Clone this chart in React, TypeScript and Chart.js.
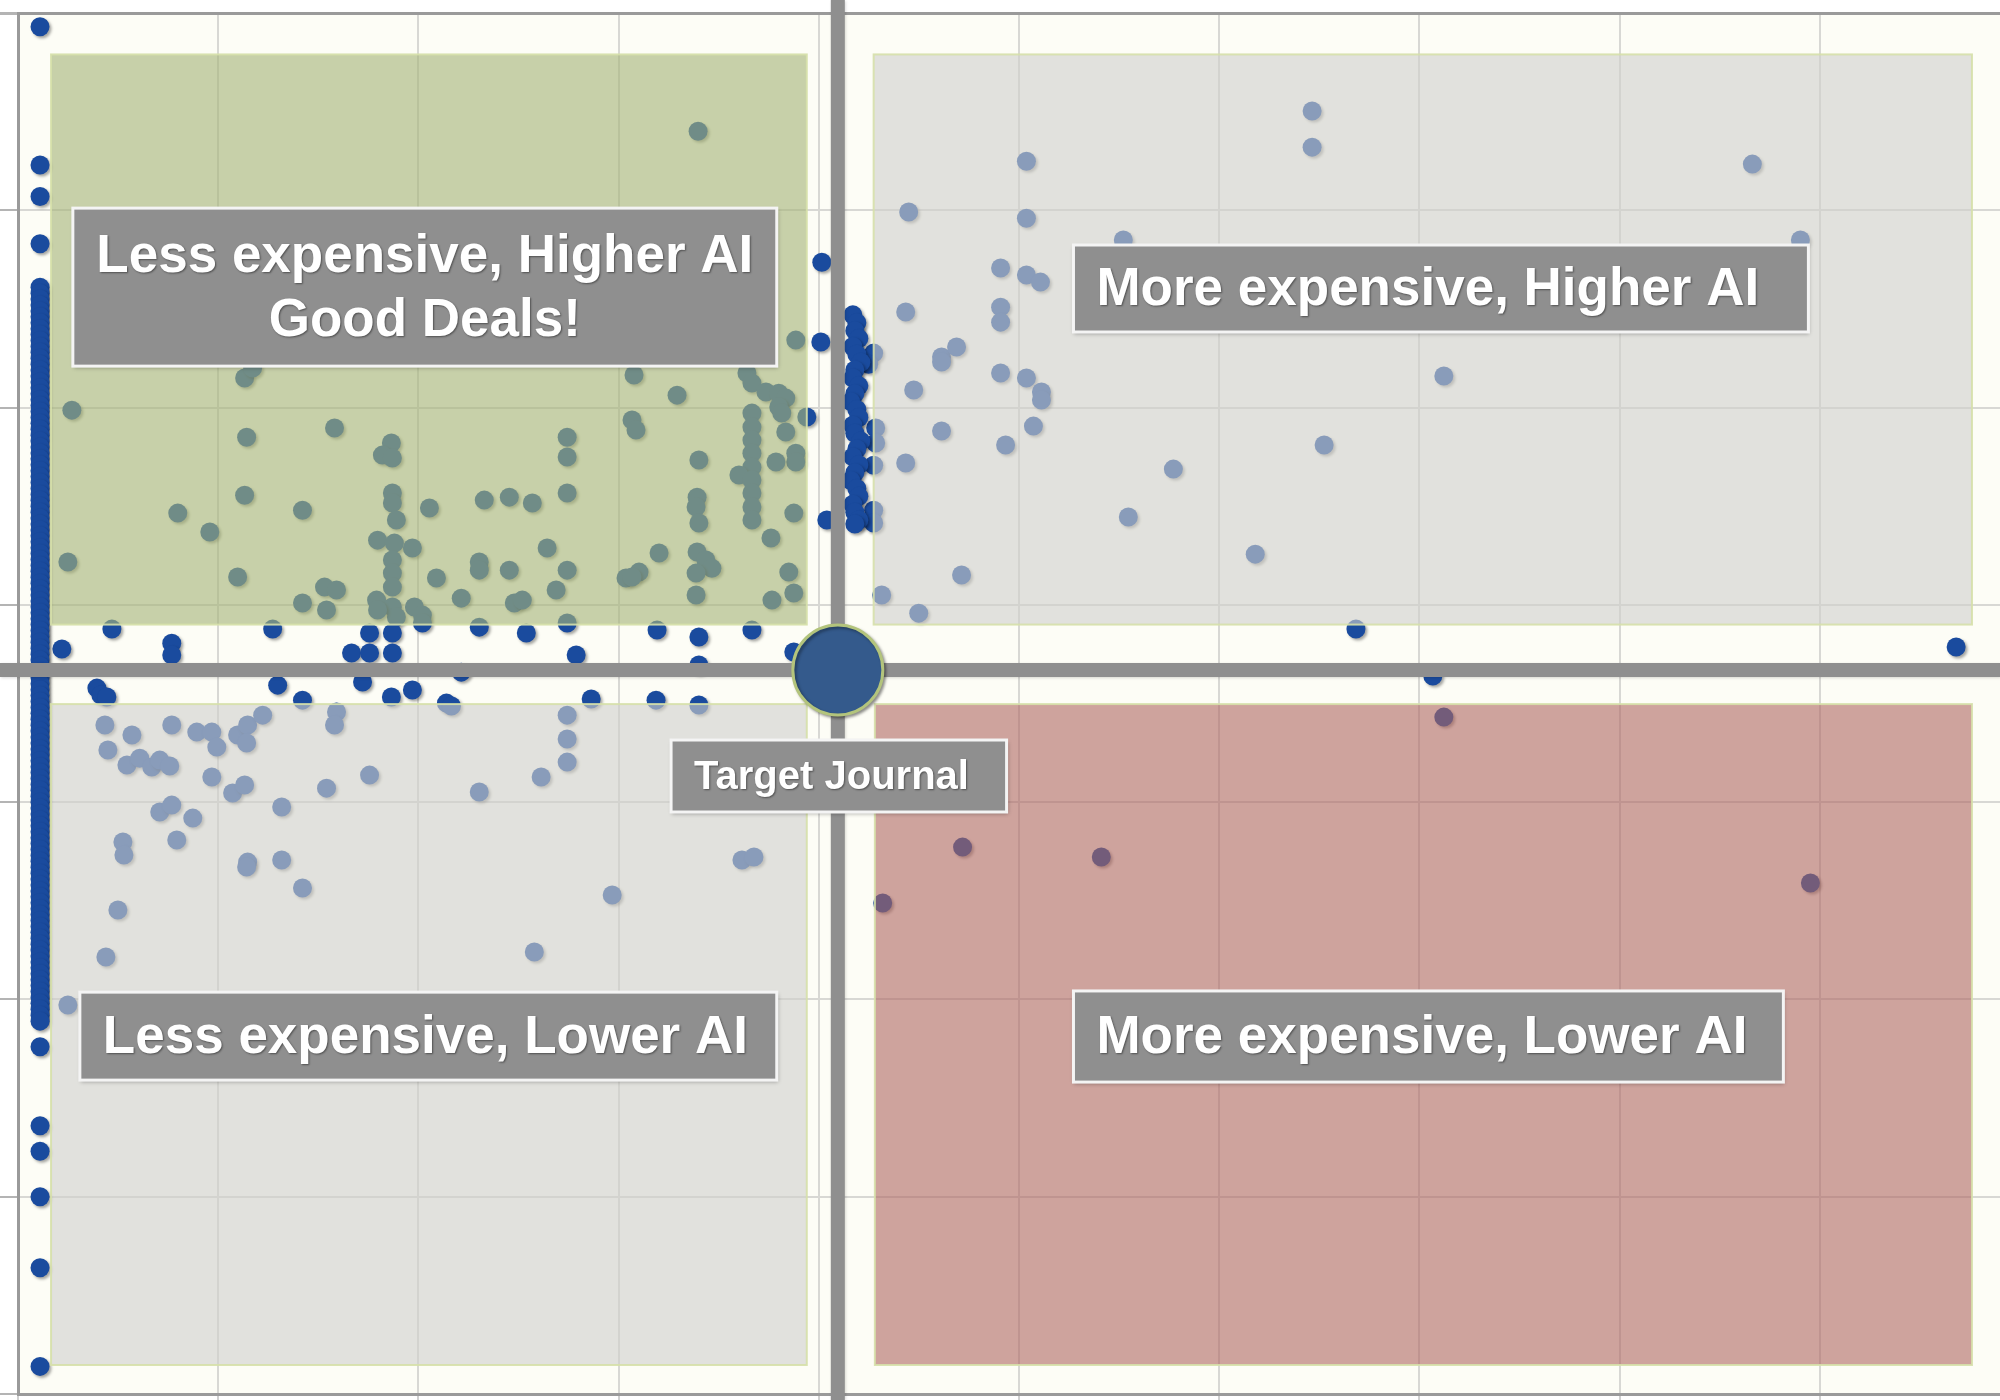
import React, { useEffect, useRef } from "react";
import { Chart, registerables } from "chart.js";

Chart.register(...registerables);

// ---- axis ranges (unitless cost index on x, AI index on y) ----
const X_MIN = 0;
const X_MAX = 9.9;
const Y_MIN = 0;
const Y_MAX = 7;

// ---- the target journal ----
const targetJournal: [number, number][] = [[4.095, 3.67]];

// ---- journals stacked at the lowest cost (far-left column) ----
const edgeColumnX = 0.11;
const edgeColumnY: number[] = [
  6.93, 6.23, 6.07, 5.83,
  5.61, 5.58, 5.55, 5.52, 5.49, 5.46, 5.43, 5.4, 5.37, 5.34, 5.31, 5.28, 5.25, 5.22, 5.19,
  5.16, 5.13, 5.1, 5.07, 5.04, 5.01, 4.98, 4.95, 4.92, 4.89, 4.86, 4.83, 4.8, 4.77, 4.74,
  4.71, 4.68, 4.65, 4.62, 4.59, 4.56, 4.53, 4.5, 4.47, 4.44, 4.41, 4.38, 4.35, 4.32, 4.29,
  4.26, 4.23, 4.2, 4.17, 4.14, 4.11, 4.08, 4.05, 4.02, 3.99, 3.96, 3.93, 3.9, 3.87, 3.84,
  3.81, 3.78, 3.75, 3.72, 3.69, 3.66, 3.63, 3.6, 3.57, 3.54, 3.51, 3.48, 3.45, 3.42, 3.39,
  3.36, 3.33, 3.3, 3.27, 3.24, 3.21, 3.18, 3.15, 3.12, 3.09, 3.06, 3.03, 3.0, 2.97, 2.94,
  2.91, 2.88, 2.85, 2.82, 2.79, 2.76, 2.73, 2.7, 2.67, 2.64, 2.61, 2.58, 2.55, 2.52, 2.49,
  2.46, 2.43, 2.4, 2.37, 2.34, 2.31, 2.28, 2.25, 2.22, 2.19, 2.16, 2.13, 2.1, 2.07, 2.04,
  2.01, 1.98, 1.95, 1.92, 1.89, 1.76,
  1.36, 1.23, 1.0, 0.64, 0.14,
];

// ---- journals stacked just above the target's cost ----
const axisColumn: [number, number][] = [
  [4.17, 5.47], [4.19, 5.43], [4.18, 5.39], [4.2, 5.35], [4.17, 5.31], [4.19, 5.27],
  [4.21, 5.23], [4.18, 5.19], [4.17, 5.15], [4.2, 5.11], [4.18, 5.07], [4.16, 5.03],
  [4.19, 4.99], [4.2, 4.95], [4.17, 4.91], [4.18, 4.87], [4.21, 4.83], [4.19, 4.79],
  [4.17, 4.75], [4.2, 4.71], [4.18, 4.67], [4.16, 4.63], [4.19, 4.59], [4.2, 4.55],
  [4.17, 4.51], [4.18, 4.47], [4.2, 4.43], [4.18, 4.41],
];

// ---- other journals near the cross-hair ----
const axisNeighbours: [number, number][] = [
  [4.015, 5.737], [4.01, 5.332], [3.94, 4.952], [4.04, 4.43],
  [4.274, 5.276], [4.249, 5.22], [4.284, 4.896], [4.284, 4.82], [4.274, 4.708],
  [4.274, 4.48], [4.274, 4.415],
];

// ---- journals close to the target's AI level (horizontal band) ----
const bandPoints: [number, number][] = [
  [0.219, 3.776], [0.469, 3.877], [0.768, 3.806], [0.768, 3.746], [1.272, 3.877],
  [1.666, 3.756], [1.756, 3.857], [1.756, 3.756], [1.87, 3.857], [1.87, 3.756],
  [2.02, 3.908], [2.304, 3.887], [2.539, 3.857], [2.743, 3.908], [2.788, 3.746],
  [3.192, 3.872], [3.401, 3.837], [3.401, 3.695], [3.666, 3.872], [3.875, 3.761],
  [0.394, 3.578], [0.414, 3.543], [0.444, 3.533], [1.297, 3.593], [1.421, 3.517],
  [1.721, 3.609], [1.865, 3.533], [1.97, 3.568], [2.14, 3.502], [2.214, 3.659],
  [2.165, 3.487], [2.863, 3.523], [3.187, 3.517], [3.401, 3.492],
  [6.683, 3.877], [7.067, 3.639], [9.681, 3.786],
];

// ---- less expensive, higher AI ----
const goodDeals: [number, number][] = [
  [3.397, 6.401], [0.269, 4.987], [1.132, 5.15], [1.172, 5.2], [1.142, 4.85], [1.581, 4.896],
  [1.865, 4.82], [1.82, 4.759], [1.87, 4.744], [1.132, 4.556], [1.87, 4.567], [1.87, 4.516],
  [1.89, 4.43], [2.055, 4.491], [0.798, 4.465], [0.958, 4.369], [1.421, 4.48], [0.249, 4.217],
  [1.097, 4.141], [1.796, 4.328], [1.88, 4.313], [1.97, 4.288], [1.87, 4.227], [1.87, 4.161],
  [1.87, 4.09], [1.791, 4.024], [1.87, 3.989], [2.09, 4.136], [1.421, 4.009], [1.531, 4.09],
  [1.591, 4.075], [1.541, 3.974], [1.98, 3.989], [2.02, 3.948], [1.89, 3.938], [1.796, 3.974],
  [3.885, 5.342], [3.077, 5.165], [3.292, 5.063], [3.641, 5.175], [3.666, 5.124], [3.736, 5.079],
  [3.8, 5.073], [3.835, 5.048], [3.8, 5.003], [3.815, 4.972], [3.666, 4.972], [3.666, 4.901],
  [3.666, 4.835], [3.835, 4.876], [3.885, 4.769], [3.885, 4.724], [3.786, 4.724], [3.666, 4.769],
  [3.666, 4.698], [3.601, 4.658], [3.666, 4.633], [3.666, 4.567], [3.666, 4.496], [3.666, 4.43],
  [3.761, 4.339], [3.875, 4.465], [3.85, 4.166], [3.875, 4.06], [3.766, 4.024], [3.067, 4.937],
  [3.087, 4.886], [3.401, 4.734], [3.392, 4.546], [3.387, 4.496], [3.401, 4.415], [3.392, 4.268],
  [3.436, 4.227], [3.466, 4.186], [3.387, 4.161], [3.387, 4.05], [3.202, 4.263], [3.037, 4.136],
  [3.102, 4.166], [3.067, 4.141], [2.743, 4.85], [2.743, 4.749], [2.743, 4.567], [2.329, 4.531],
  [2.454, 4.546], [2.569, 4.516], [2.643, 4.288], [2.304, 4.217], [2.304, 4.176], [2.454, 4.176],
  [2.743, 4.176], [2.688, 4.075], [2.214, 4.034], [2.479, 4.009], [2.519, 4.024],
];

// ---- more expensive, higher AI ----
const highCost: [number, number][] = [
  [6.464, 6.503], [6.464, 6.32], [8.663, 6.234], [5.037, 6.249], [4.449, 5.991], [5.037, 5.96],
  [5.521, 5.849], [8.903, 5.849], [4.908, 5.707], [5.037, 5.672], [5.107, 5.636], [4.434, 5.484],
  [4.908, 5.509], [4.908, 5.433], [4.613, 5.256], [4.688, 5.307], [4.613, 5.231], [4.908, 5.175],
  [5.037, 5.15], [5.112, 5.079], [5.112, 5.038], [4.474, 5.089], [5.072, 4.906], [4.613, 4.881],
  [4.933, 4.81], [4.434, 4.719], [5.771, 4.688], [5.546, 4.445], [4.713, 4.151], [4.314, 4.05],
  [4.499, 3.958], [7.122, 5.16], [6.524, 4.81], [6.18, 4.257],
];

// ---- less expensive, lower AI ----
const lowCost: [number, number][] = [
  [0.434, 3.391], [0.569, 3.34], [0.768, 3.391], [0.893, 3.355], [0.968, 3.355], [0.993, 3.279],
  [0.449, 3.264], [0.544, 3.188], [0.608, 3.223], [0.668, 3.178], [0.708, 3.213], [0.758, 3.183],
  [1.097, 3.34], [1.147, 3.391], [1.222, 3.441], [1.142, 3.3], [1.591, 3.457], [1.581, 3.391],
  [0.968, 3.127], [1.072, 3.046], [1.132, 3.087], [0.708, 2.95], [0.768, 2.985], [0.873, 2.919],
  [1.317, 2.975], [1.541, 3.071], [1.756, 3.137], [0.524, 2.798], [0.529, 2.732], [0.793, 2.808],
  [1.147, 2.696], [1.142, 2.671], [1.317, 2.707], [1.421, 2.565], [0.499, 2.453], [0.439, 2.215],
  [0.249, 1.972], [2.743, 3.441], [2.743, 3.32], [2.743, 3.203], [2.613, 3.127], [2.304, 3.051],
  [3.616, 2.707], [3.676, 2.722], [2.968, 2.529], [2.579, 2.24],
];

// ---- more expensive, lower AI ----
const poorValue: [number, number][] = [
  [7.122, 3.431], [4.718, 2.772], [5.411, 2.722], [4.319, 2.489], [8.953, 2.59],
];

// ---- annotation text ----
const labelTexts: string[][] = [
  ["Less expensive, Higher AI", "Good Deals!"],
  ["More expensive, Higher AI"],
  ["Less expensive, Lower AI"],
  ["More expensive, Lower AI"],
  ["Target Journal"],
];

// ---- annotation geometry (data units) ----
const quadrantAreas = [
  { x: [0.165, 3.94], y: [3.9, 6.79], fill: "rgba(166,181,121,0.62)" },
  { x: [4.274, 9.76], y: [3.9, 6.79], fill: "rgba(208,207,205,0.61)" },
  { x: [0.165, 3.94], y: [0.147, 3.497], fill: "rgba(208,207,205,0.61)" },
  { x: [4.28, 9.76], y: [0.147, 3.497], fill: "rgba(175,103,98,0.6)" },
];

const labelBoxes = [
  { x: [0.274, 3.79], y: [5.21, 6.011], size: 53, gap: 64, align: "center" },
  { x: [5.272, 8.943], y: [5.383, 5.824], size: 53, gap: 64, align: "left" },
  { x: [0.309, 3.79], y: [1.591, 2.037], size: 53, gap: 64, align: "left" },
  { x: [5.272, 8.818], y: [1.581, 2.043], size: 53, gap: 64, align: "left" },
  { x: [3.262, 4.938], y: [2.95, 3.315], size: 40, gap: 48, align: "left" },
];

const POINT_COLOR = "#1a4b9e";
const FONT = "'Liberation Sans', Arial, Helvetica, sans-serif";
const LABEL_PAD = 23;

const toXY = (arr: [number, number][]) => arr.map(([x, y]) => ({ x, y }));
const column = (x: number, ys: number[]) => ys.map((y) => ({ x, y }));

const overlayPlugin = {
  id: "quadrantOverlay",
  beforeDraw(chart: any) {
    const { ctx, chartArea: a } = chart;
    ctx.save();
    ctx.fillStyle = "#ffffff";
    ctx.fillRect(0, 0, chart.width, chart.height);
    ctx.fillStyle = "#fdfdf6";
    ctx.fillRect(a.left, a.top, a.right - a.left, a.bottom - a.top);
    ctx.restore();
  },
  beforeDatasetDraw(chart: any, args: any) {
    const { ctx } = chart;
    const xs = chart.scales.x;
    const ys = chart.scales.y;
    if (args.index === 0) {
      // quadrant shading drawn over the other journals
      ctx.save();
      quadrantAreas.forEach((q) => {
        const l = xs.getPixelForValue(q.x[0]);
        const r = xs.getPixelForValue(q.x[1]);
        const t = ys.getPixelForValue(q.y[1]);
        const b = ys.getPixelForValue(q.y[0]);
        ctx.fillStyle = q.fill;
        ctx.fillRect(l, t, r - l, b - t);
        ctx.strokeStyle = "rgba(214,224,170,0.9)";
        ctx.lineWidth = 2;
        ctx.strokeRect(l, t, r - l, b - t);
      });
      // cross-hair through the target journal
      const [tx, ty] = targetJournal[0];
      const px = xs.getPixelForValue(tx);
      const py = ys.getPixelForValue(ty);
      ctx.strokeStyle = "#8f8f8f";
      ctx.lineWidth = 14;
      ctx.shadowColor = "rgba(0,0,0,0.15)";
      ctx.shadowBlur = 3;
      ctx.shadowOffsetX = 1;
      ctx.shadowOffsetY = 1;
      ctx.beginPath();
      ctx.moveTo(0, py);
      ctx.lineTo(chart.width, py);
      ctx.moveTo(px, 0);
      ctx.lineTo(px, chart.height);
      ctx.stroke();
      ctx.restore();
    }
    ctx.save();
    ctx.shadowColor = "rgba(0,0,0,0.35)";
    ctx.shadowBlur = 3;
    ctx.shadowOffsetX = 2;
    ctx.shadowOffsetY = 2;
  },
  afterDatasetDraw(chart: any) {
    chart.ctx.restore();
  },
  afterDatasetsDraw(chart: any) {
    const { ctx } = chart;
    const xs = chart.scales.x;
    const ys = chart.scales.y;
    labelBoxes.forEach((bx, i) => {
      const l = xs.getPixelForValue(bx.x[0]);
      const r = xs.getPixelForValue(bx.x[1]);
      const t = ys.getPixelForValue(bx.y[1]);
      const b = ys.getPixelForValue(bx.y[0]);
      ctx.save();
      ctx.shadowColor = "rgba(0,0,0,0.3)";
      ctx.shadowBlur = 4;
      ctx.shadowOffsetX = 1;
      ctx.shadowOffsetY = 2;
      ctx.fillStyle = "#8f8f8f";
      ctx.fillRect(l, t, r - l, b - t);
      ctx.shadowColor = "transparent";
      ctx.strokeStyle = "#f4f4f4";
      ctx.lineWidth = 3;
      ctx.strokeRect(l, t, r - l, b - t);
      const lines = labelTexts[i];
      ctx.font = `bold ${bx.size}px ${FONT}`;
      ctx.fillStyle = "#ffffff";
      ctx.textAlign = bx.align as CanvasTextAlign;
      ctx.textBaseline = "middle";
      ctx.shadowColor = "rgba(0,0,0,0.45)";
      ctx.shadowBlur = 2;
      ctx.shadowOffsetX = 1;
      ctx.shadowOffsetY = 1;
      const tx = bx.align === "center" ? (l + r) / 2 : l + LABEL_PAD;
      const cy = (t + b) / 2;
      lines.forEach((line, k) => {
        const yy = cy + (k - (lines.length - 1) / 2) * bx.gap + 2;
        ctx.fillText(line, tx, yy);
      });
      ctx.restore();
    });
  },
};

const journalDataset = (data: { x: number; y: number }[]) => ({
  data,
  pointRadius: 9.5,
  pointHoverRadius: 9.5,
  backgroundColor: POINT_COLOR,
  borderWidth: 0,
  order: 1,
});

export default function App() {
  const canvasRef = useRef<HTMLCanvasElement | null>(null);

  useEffect(() => {
    if (!canvasRef.current) return;
    const chart = new Chart(canvasRef.current, {
      type: "scatter",
      data: {
        datasets: [
          {
            data: toXY(targetJournal),
            pointRadius: 45,
            pointHoverRadius: 45,
            backgroundColor: "#345a8c",
            borderColor: "#b3c47c",
            borderWidth: 3,
            order: 0,
          } as any,
          journalDataset(column(edgeColumnX, edgeColumnY)),
          journalDataset(toXY(axisColumn)),
          journalDataset(toXY(axisNeighbours)),
          journalDataset(toXY(bandPoints)),
          journalDataset(toXY(goodDeals)),
          journalDataset(toXY(highCost)),
          journalDataset(toXY(lowCost)),
          journalDataset(toXY(poorValue)),
        ],
      },
      options: {
        responsive: false,
        animation: false,
        events: [],
        layout: { autoPadding: false, padding: { top: 13, right: 0, left: 0, bottom: 0 } },
        plugins: {
          legend: { display: false },
          tooltip: { enabled: false },
          title: { display: false },
        },
        scales: {
          x: {
            type: "linear",
            min: X_MIN,
            max: X_MAX,
            ticks: { display: false, stepSize: 1, includeBounds: false },
            grid: {
              color: "#d8d8d4",
              lineWidth: 2,
              drawTicks: true,
              tickLength: 6,
              tickColor: "#d0d0d0",
            },
            border: { display: true, color: "#9a9a9a", width: 3 },
          },
          y: {
            type: "linear",
            min: Y_MIN,
            max: Y_MAX,
            ticks: { display: false, stepSize: 1 },
            grid: {
              color: (c: any) => (c.tick && c.tick.value === Y_MAX ? "#9a9a9a" : "#d8d8d4"),
              lineWidth: (c: any) => (c.tick && c.tick.value === Y_MAX ? 3 : 2),
              drawTicks: true,
              tickLength: 18,
              tickColor: "#b4b4b4",
            },
            border: { display: true, color: "#9a9a9a", width: 3 },
          },
        },
      },
      plugins: [overlayPlugin],
    });
    return () => chart.destroy();
  }, []);

  return (
    <div style={{ position: "fixed", left: 0, top: 0, width: 2000, height: 1400, background: "#ffffff" }}>
      <canvas ref={canvasRef} width={2000} height={1400} style={{ width: 2000, height: 1400, display: "block" }} />
    </div>
  );
}
